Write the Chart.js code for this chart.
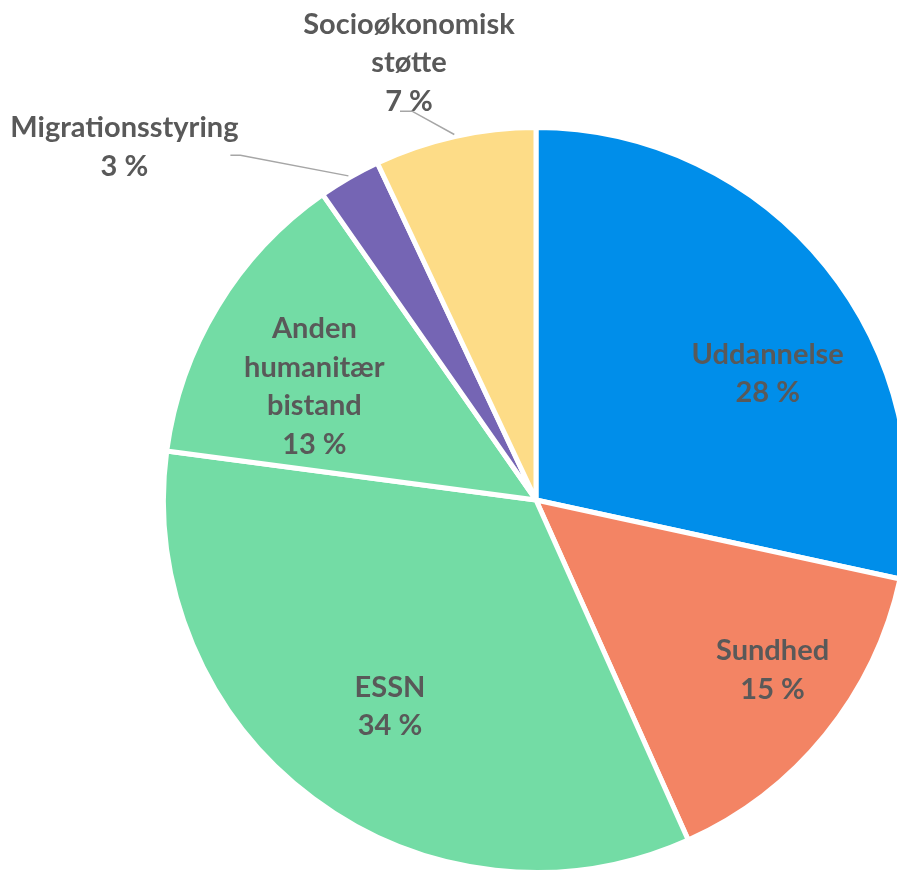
<!DOCTYPE html>
<html>
<head>
<meta charset="utf-8">
<script src="https://cdn.jsdelivr.net/npm/chart.js@4"></script>
<style>
  html, body { margin: 0; padding: 0; background: #fff; overflow: hidden; }
  #wrap { width: 897px; height: 870px; overflow: hidden; position: relative; }
  #pie { position: absolute; left: 0; top: 0; }
</style>
</head>
<body>
<div id="wrap"><canvas id="pie" width="1000" height="1000"></canvas></div>
<script>
//------------------------------------------------------------------------------
// data (clockwise from 12 o'clock)
//------------------------------------------------------------------------------
var categories = [["Uddannelse"], ["Sundhed"], ["ESSN"], ["Anden", "humanitær", "bistand"],
                  ["Migrationsstyring"], ["Socioøkonomisk", "støtte"]];
var shares = [28.4, 14.9, 33.8, 13.2, 2.7, 7.0];
var colours = ["#008eea", "#f38464", "#73dca5", "#73dca5", "#7565b4", "#fddc87"];

// label placement, as fractions of the radius from the centre
var labelAt = [[0.622, -0.339], [0.635, 0.457], [-0.392, 0.555], [-0.595, -0.304],
               [-1.105, -0.947], [-0.341, -1.174]];
// leader lines: start and elbow offsets (px) from the label centre
var leaders = [null, null, null, null, [106, 8, 116, 8], [-9, 48.5, 3, 48.5]];
var lineH = 38.5;

//------------------------------------------------------------------------------
var total = shares.reduce(function(a, b) { return a + b; }, 0);

var pieLabels = {
  id: 'pieLabels',
  afterDatasetsDraw: function(chart) {
    var ctx = chart.ctx;
    var arcs = chart.getDatasetMeta(0).data;
    ctx.save();
    ctx.font = "bold 29px Lato";
    ctx.fillStyle = "#595959";
    ctx.textAlign = "center";
    ctx.textBaseline = "middle";
    arcs.forEach(function(arc, i) {
      var R = arc.outerRadius;
      var x = arc.x + labelAt[i][0] * R;
      var y = arc.y + labelAt[i][1] * R;
      var lines = categories[i].concat([Math.round(shares[i] / total * 100) + " %"]);
      var top = y - (lines.length - 1) * lineH / 2;
      lines.forEach(function(t, k) { ctx.fillText(t, x, top + k * lineH); });
      var L = leaders[i];
      if (L) {
        var mid = (arc.startAngle + arc.endAngle) / 2;
        ctx.beginPath();
        ctx.strokeStyle = "#a6a6a6";
        ctx.lineWidth = 1.5;
        ctx.moveTo(x + L[0], y + L[1]);
        ctx.lineTo(x + L[2], y + L[3]);
        ctx.lineTo(arc.x + Math.cos(mid) * (R + 2), arc.y + Math.sin(mid) * (R + 2));
        ctx.stroke();
      }
    });
    ctx.restore();
  }
};

//------------------------------------------------------------------------------
var ctx = document.getElementById("pie");
var chart = new Chart(ctx, {
  type: 'pie',
  data: {
    labels: categories,
    datasets: [{
      data: shares,
      backgroundColor: colours,
      borderColor: "#ffffff",
      borderWidth: 5
    }]
  },
  options: {
    responsive: false,
    devicePixelRatio: 1,
    animation: false,
    events: [],
    layout: { padding: { left: 161, top: 125, right: 89, bottom: 125 } },
    plugins: {
      legend: { display: false },
      tooltip: { enabled: false }
    }
  },
  plugins: [pieLabels]
});
</script>
</body>
</html>
